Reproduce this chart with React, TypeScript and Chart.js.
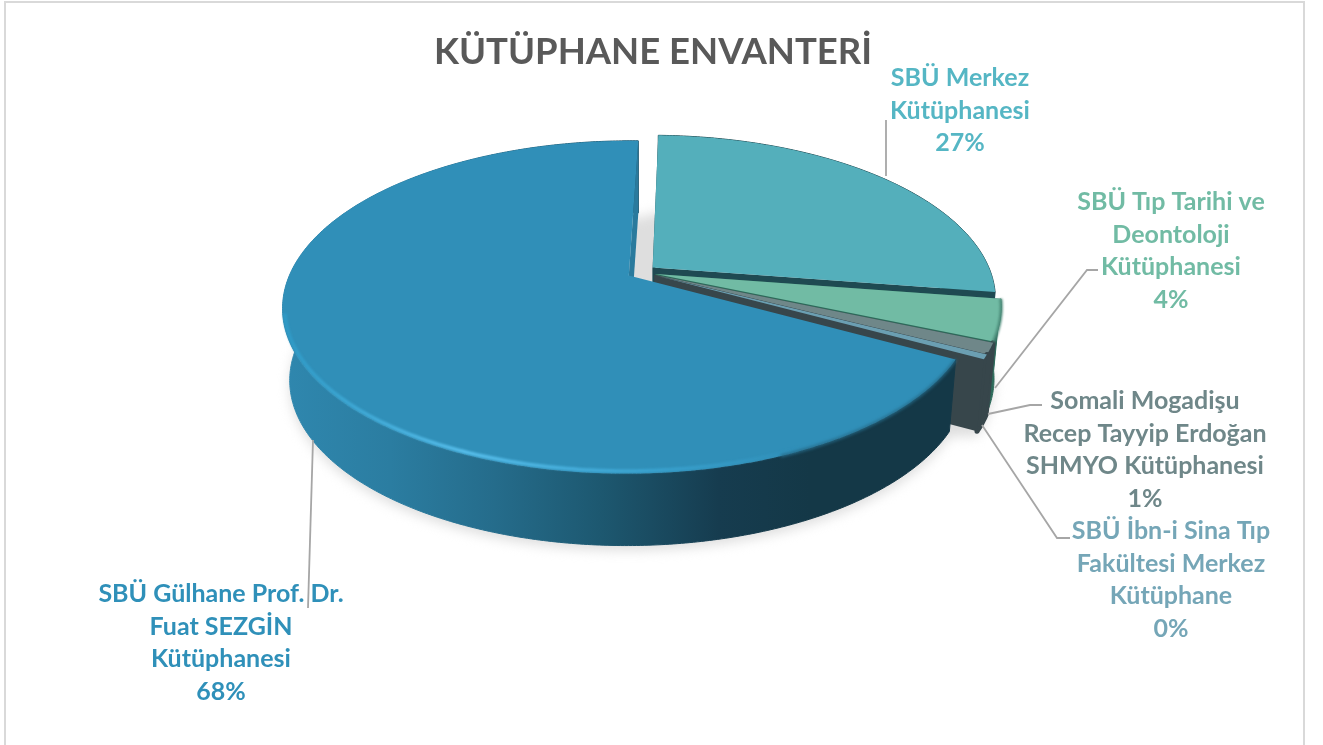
import React, { useEffect, useRef } from "react";
import { Chart, registerables } from "chart.js";

Chart.register(...registerables);

const categories = [
  "SBÜ Merkez Kütüphanesi",
  "SBÜ Tıp Tarihi ve Deontoloji Kütüphanesi",
  "Somali Mogadişu Recep Tayyip Erdoğan SHMYO Kütüphanesi",
  "SBÜ İbn-i Sina Tıp Fakültesi Merkez Kütüphane",
  "SBÜ Gülhane Prof. Dr. Fuat SEZGİN Kütüphanesi",
];
const values = [27, 4, 1.05, 0.45, 67.5];
const chartTitle = "KÜTÜPHANE ENVANTERİ";

const faceColors = ["#54afbb", "#71bba4", "#6f8789", "#6b9fb2", "#308fb8"];
const radialColors = ["#1f4a52", "#2d6a5a", "#37464b", "#37464b", "#2a7a9d"];
const textColors = ["#55b6c4", "#71bba4", "#6f8789", "#75a6b7", "#2f90b9"];
const FONT = "Lato, 'Open Sans', sans-serif";
const wallStops: [number, string][][] = [
  [[0, "#1f4a52"], [1, "#1f4a52"]],
  [[0, "#2d6a5a"], [1, "#2d6a5a"]],
  [[0, "#37464b"], [1, "#37464b"]],
  [[0, "#37464b"], [1, "#37464b"]],
  [[0, "#2f87ae"], [0.15, "#2b7da1"], [0.3, "#256c8b"], [0.45, "#1d5870"], [0.62, "#163c4f"], [0.75, "#143847"], [1, "#143847"]],
];

// label layout: wrap width, centre x, first line middle y
const labelLayout = [
  { wrap: 160, x: 960, y: 78 },
  { wrap: 205, x: 1171, y: 202 },
  { wrap: 260, x: 1145, y: 401 },
  { wrap: 210, x: 1171, y: 531 },
  { wrap: 260, x: 221, y: 594 },
];
const LINE_H = 32.5;
const leaders: [number, number][][] = [
  [[886, 176], [886, 120]],
  [[995, 388], [1087, 270], [1098, 270]],
  [[988, 414], [1030, 405], [1042, 405]],
  [[982, 425], [1057, 538], [1070, 538]],
  [[313, 440], [308, 608]],
];

const CX = 641.5, CY = 272, A = 338, B = 159, K = 0.19, H = 72, SHRINK = 0.02;

function project(u: number, v: number, h: number): [number, number] {
  const den = 1 - K * v;
  return [CX + (A * u / den) * (1 - SHRINK * h), CY + (B * v / den) + H * h];
}

function sliceGeom(el: any) {
  const a0 = el.startAngle, a1 = el.endAngle, mid = (a0 + a1) / 2;
  const e = (el.options.offset || 0) / el.outerRadius;
  const ou = e * Math.cos(mid), ov = e * Math.sin(mid);
  const n = Math.max(2, Math.ceil((a1 - a0) / 0.01));
  const arc = (h: number) => {
    const pts: [number, number][] = [];
    for (let i = 0; i <= n; i++) {
      const a = a0 + ((a1 - a0) * i) / n;
      pts.push(project(ou + Math.cos(a), ov + Math.sin(a), h));
    }
    return pts;
  };
  return { apex: (h: number) => project(ou, ov, h), arc };
}

function poly(ctx: CanvasRenderingContext2D, pts: [number, number][]) {
  ctx.beginPath();
  pts.forEach((p, i) => (i ? ctx.lineTo(p[0], p[1]) : ctx.moveTo(p[0], p[1])));
  ctx.closePath();
}

function wrapText(ctx: CanvasRenderingContext2D, text: string, w: number) {
  const out: string[] = [];
  let line = "";
  text.split(" ").forEach((word) => {
    const t = line ? line + " " + word : word;
    if (ctx.measureText(t).width > w && line) {
      out.push(line);
      line = word;
    } else line = t;
  });
  if (line) out.push(line);
  return out;
}

const pie3d = {
  id: "pie3d",
  beforeDraw(chart: any) {
    const ctx = chart.ctx;
    ctx.save();
    ctx.fillStyle = "#ffffff";
    ctx.fillRect(0, 0, chart.width, chart.height);
    ctx.fillStyle = "#d9d9d9";
    ctx.fillRect(4, 1, 1301, 2);
    ctx.fillRect(4, 1, 2, 744);
    ctx.fillRect(1303, 1, 2, 744);
    ctx.restore();
  },
  beforeDatasetDraw() {
    return false;
  },
  afterDatasetsDraw(chart: any) {
    const ctx: CanvasRenderingContext2D = chart.ctx;
    const arcs = chart.getDatasetMeta(0).data;
    const geoms = arcs.map(sliceGeom);
    ctx.save();
    // ground shadow: one closed outline through every slice's bottom edge
    ctx.filter = "blur(6px)";
    ctx.fillStyle = "#dedede";
    poly(ctx, geoms.flatMap((g: any) => g.arc(1)).map((p: any) => [p[0], p[1] + 5] as [number, number]));
    ctx.fill();
    ctx.filter = "none";
    ctx.lineJoin = "round";
    geoms.forEach((g: any, i: number) => {
      const top = g.arc(0), bot = g.arc(1);
      const last = top.length - 1;
      const grad = ctx.createLinearGradient(285, 0, 985, 0);
      wallStops[i].forEach(([s, c]) => grad.addColorStop(s, c));
      ctx.fillStyle = grad;
      ctx.strokeStyle = grad;
      ctx.lineWidth = i === 2 || i === 3 ? 5 : 1;
      poly(ctx, [...top, ...bot.slice().reverse()]);
      ctx.fill();
      ctx.stroke();
      ctx.fillStyle = radialColors[i];
      // the big slice's starting wall faces away from the viewer: skip it
      if (i !== 4) {
        poly(ctx, [g.apex(0), top[0], bot[0], g.apex(1)]);
        ctx.fill();
      }
      poly(ctx, [g.apex(0), top[last], bot[last], g.apex(1)]);
      ctx.fill();
      ctx.fillStyle = faceColors[i];
      poly(ctx, [g.apex(0), ...top]);
      ctx.fill();
    });
    const strokeAlong = (pts: [number, number][], style: any, width: number, blur: number) => {
      ctx.filter = `blur(${blur}px)`;
      ctx.strokeStyle = style;
      ctx.lineWidth = width;
      ctx.beginPath();
      pts.forEach((p) => ctx.lineTo(p[0], p[1]));
      ctx.stroke();
      ctx.filter = "none";
    };
    // rim highlight on the large slice
    const big: [number, number][] = geoms[4].arc(0);
    const rim = ctx.createLinearGradient(285, 0, 800, 0);
    rim.addColorStop(0, "#2f9ac6");
    rim.addColorStop(0.35, "#58bfec");
    rim.addColorStop(0.7, "#3aa3d0");
    rim.addColorStop(1, "#308fb8");
    strokeAlong(
      big
        .filter((p) => p[1] >= 313 && p[0] <= 800)
        .map((p) => [634 + (p[0] - 634) * 0.994, 300 + (p[1] - 300) * 0.985] as [number, number]),
      rim, 3.5, 1.2
    );
    strokeAlong(big.filter((p) => p[1] >= 313 && p[0] > 780), "#256a88", 2.5, 1.5);
    // soft bevel along the green slice's outer edge
    strokeAlong(geoms[1].arc(0), "#4a8a78", 3, 1.2);
    ctx.restore();

    ctx.save();
    ctx.strokeStyle = "#a6a6a6";
    ctx.lineWidth = 1.8;
    leaders.forEach((l) => {
      ctx.beginPath();
      l.forEach((p, i) => (i ? ctx.lineTo(p[0], p[1]) : ctx.moveTo(p[0], p[1])));
      ctx.stroke();
    });
    const total = values.reduce((a, b) => a + b, 0);
    ctx.font = `700 25px ${FONT}`;
    ctx.textAlign = "center";
    ctx.textBaseline = "middle";
    categories.forEach((c, i) => {
      const lay = labelLayout[i];
      const lines = [...wrapText(ctx, c, lay.wrap), `${Math.round((values[i] / total) * 100)}%`];
      ctx.fillStyle = textColors[i];
      lines.forEach((t, j) => ctx.fillText(t, lay.x, lay.y + j * LINE_H));
    });
    ctx.restore();
  },
};

export default function App() {
  const ref = useRef<HTMLCanvasElement>(null);
  useEffect(() => {
    const chart = new Chart(ref.current!, {
      type: "pie",
      data: {
        labels: categories,
        datasets: [{ data: values, backgroundColor: faceColors, borderWidth: 0, offset: 14 }],
      },
      options: {
        animation: false,
        responsive: false,
        rotation: 1.5,
        plugins: {
          legend: { display: false },
          tooltip: { enabled: false },
          title: {
            display: true,
            text: chartTitle,
            color: "#595959",
            font: { family: FONT, size: 36.5, weight: "bold" },
            padding: { top: 30, bottom: 10 },
          },
        },
      },
      plugins: [pie3d],
    } as any);
    return () => chart.destroy();
  }, []);
  return (
    <div style={{ position: "absolute", left: 0, top: 0, width: 1306, height: 745, overflow: "hidden" }}>
      <canvas ref={ref} width={1306} height={745} style={{ display: "block" }} />
    </div>
  );
}
